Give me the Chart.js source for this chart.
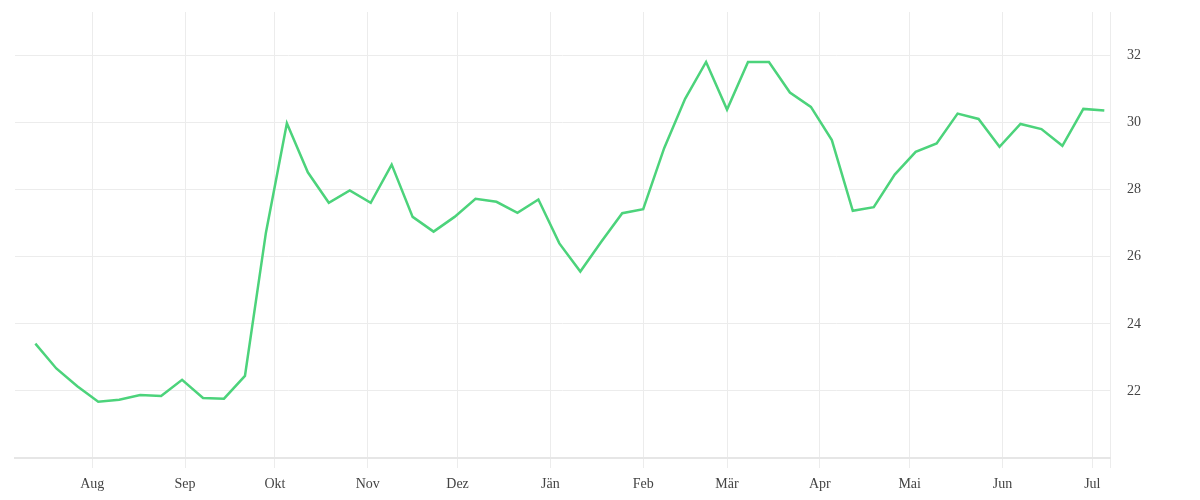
<!DOCTYPE html>
<html>
<head>
<meta charset="utf-8">
<script src="https://cdn.jsdelivr.net/npm/chart.js@4.4.1/dist/chart.umd.min.js"></script>
<style>
  body { margin: 0; background: #fff; }
  #wrap { width: 1200px; height: 500px; }
</style>
</head>
<body>
<div id="wrap"><canvas id="lineChart"></canvas></div>
<script>
// weekly readings
const weeks = [
  '2022-07-13', '2022-07-20', '2022-07-27', '2022-08-03', '2022-08-10', '2022-08-17', '2022-08-24', '2022-08-31',
  '2022-09-07', '2022-09-14', '2022-09-21', '2022-09-28', '2022-10-05', '2022-10-12', '2022-10-19', '2022-10-26',
  '2022-11-02', '2022-11-09', '2022-11-16', '2022-11-23', '2022-11-30', '2022-12-07', '2022-12-14', '2022-12-21',
  '2022-12-28', '2023-01-04', '2023-01-11', '2023-01-18', '2023-01-25', '2023-02-01', '2023-02-08', '2023-02-15',
  '2023-02-22', '2023-03-01', '2023-03-08', '2023-03-15', '2023-03-22', '2023-03-29', '2023-04-05', '2023-04-12',
  '2023-04-19', '2023-04-26', '2023-05-03', '2023-05-10', '2023-05-17', '2023-05-24', '2023-05-31', '2023-06-07',
  '2023-06-14', '2023-06-21', '2023-06-28', '2023-07-05'
];
const values = [
  23.41, 22.67, 22.14, 21.68, 21.74, 21.88, 21.85, 22.33, 21.79, 21.77,
  22.45, 26.72, 29.98, 28.52, 27.61, 27.98, 27.61, 28.75, 27.19, 26.75,
  27.19, 27.73, 27.64, 27.31, 27.71, 26.40, 25.56, 26.45, 27.30, 27.42,
  29.24, 30.71, 31.81, 30.39, 31.81, 31.81, 30.90, 30.47, 29.48, 27.37,
  27.48, 28.45, 29.13, 29.38, 30.27, 30.11, 29.28, 29.96, 29.81, 29.31,
  30.41, 30.36
];

// x axis month ticks
const monthStarts = [
  '2022-08-01', '2022-09-01', '2022-10-01', '2022-11-01', '2022-12-01', '2023-01-01',
  '2023-02-01', '2023-03-01', '2023-04-01', '2023-05-01', '2023-06-01', '2023-07-01'
];
const monthLabels = ['Aug', 'Sep', 'Okt', 'Nov', 'Dez', 'Jän', 'Feb', 'Mär', 'Apr', 'Mai', 'Jun', 'Jul'];

// y axis ticks
const yTicks = [22, 24, 26, 28, 30, 32];

// days since first month tick
const origin = Date.parse(monthStarts[0]);
const toDay = s => (Date.parse(s) - origin) / 86400000;
const monthDays = monthStarts.map(toDay);

const xMin = -25.8;
const xMax = 339.9;

const gridColor = '#ececec';
const tickFont = { family: '"Liberation Serif", "DejaVu Serif", serif', size: 14 };

const ctx = document.getElementById('lineChart').getContext('2d');
new Chart(ctx, {
  type: 'line',
  data: {
    datasets: [{
      data: weeks.map((w, i) => ({ x: toDay(w), y: values[i] })),
      borderColor: '#4cd37b',
      borderWidth: 2.5,
      pointRadius: 0,
      tension: 0,
      fill: false
    }]
  },
  options: {
    responsive: true,
    maintainAspectRatio: false,
    animation: false,
    layout: { padding: { left: 15, top: 0, right: 0, bottom: 0 } },
    plugins: {
      legend: { display: false },
      tooltip: { enabled: false }
    },
    scales: {
      x: {
        type: 'linear',
        min: xMin,
        max: xMax,
        afterBuildTicks: scale => {
          scale.ticks = monthDays.concat([xMax]).map(v => ({ value: v }));
        },
        afterFit: scale => { scale.height = 42; },
        grid: { color: gridColor, lineWidth: 1, drawTicks: true, tickLength: 10 },
        border: { display: true, color: '#e6e6e6', width: 2 },
        ticks: {
          autoSkip: false,
          maxRotation: 0,
          padding: 8,
          color: '#444',
          font: tickFont,
          callback: value => {
            const i = monthDays.indexOf(value);
            return i >= 0 ? monthLabels[i] : '';
          }
        }
      },
      y: {
        position: 'right',
        min: 20,
        max: 33.3,
        afterBuildTicks: scale => {
          scale.ticks = yTicks.map(v => ({ value: v }));
        },
        afterFit: scale => {
          scale.width = 90;
          scale.paddingTop = 12;
          scale.paddingBottom = 0;
        },
        grid: { color: gridColor, lineWidth: 1, drawTicks: false },
        border: { display: false },
        ticks: {
          padding: 17,
          color: '#444',
          font: tickFont
        }
      }
    }
  }
});
</script>
</body>
</html>
